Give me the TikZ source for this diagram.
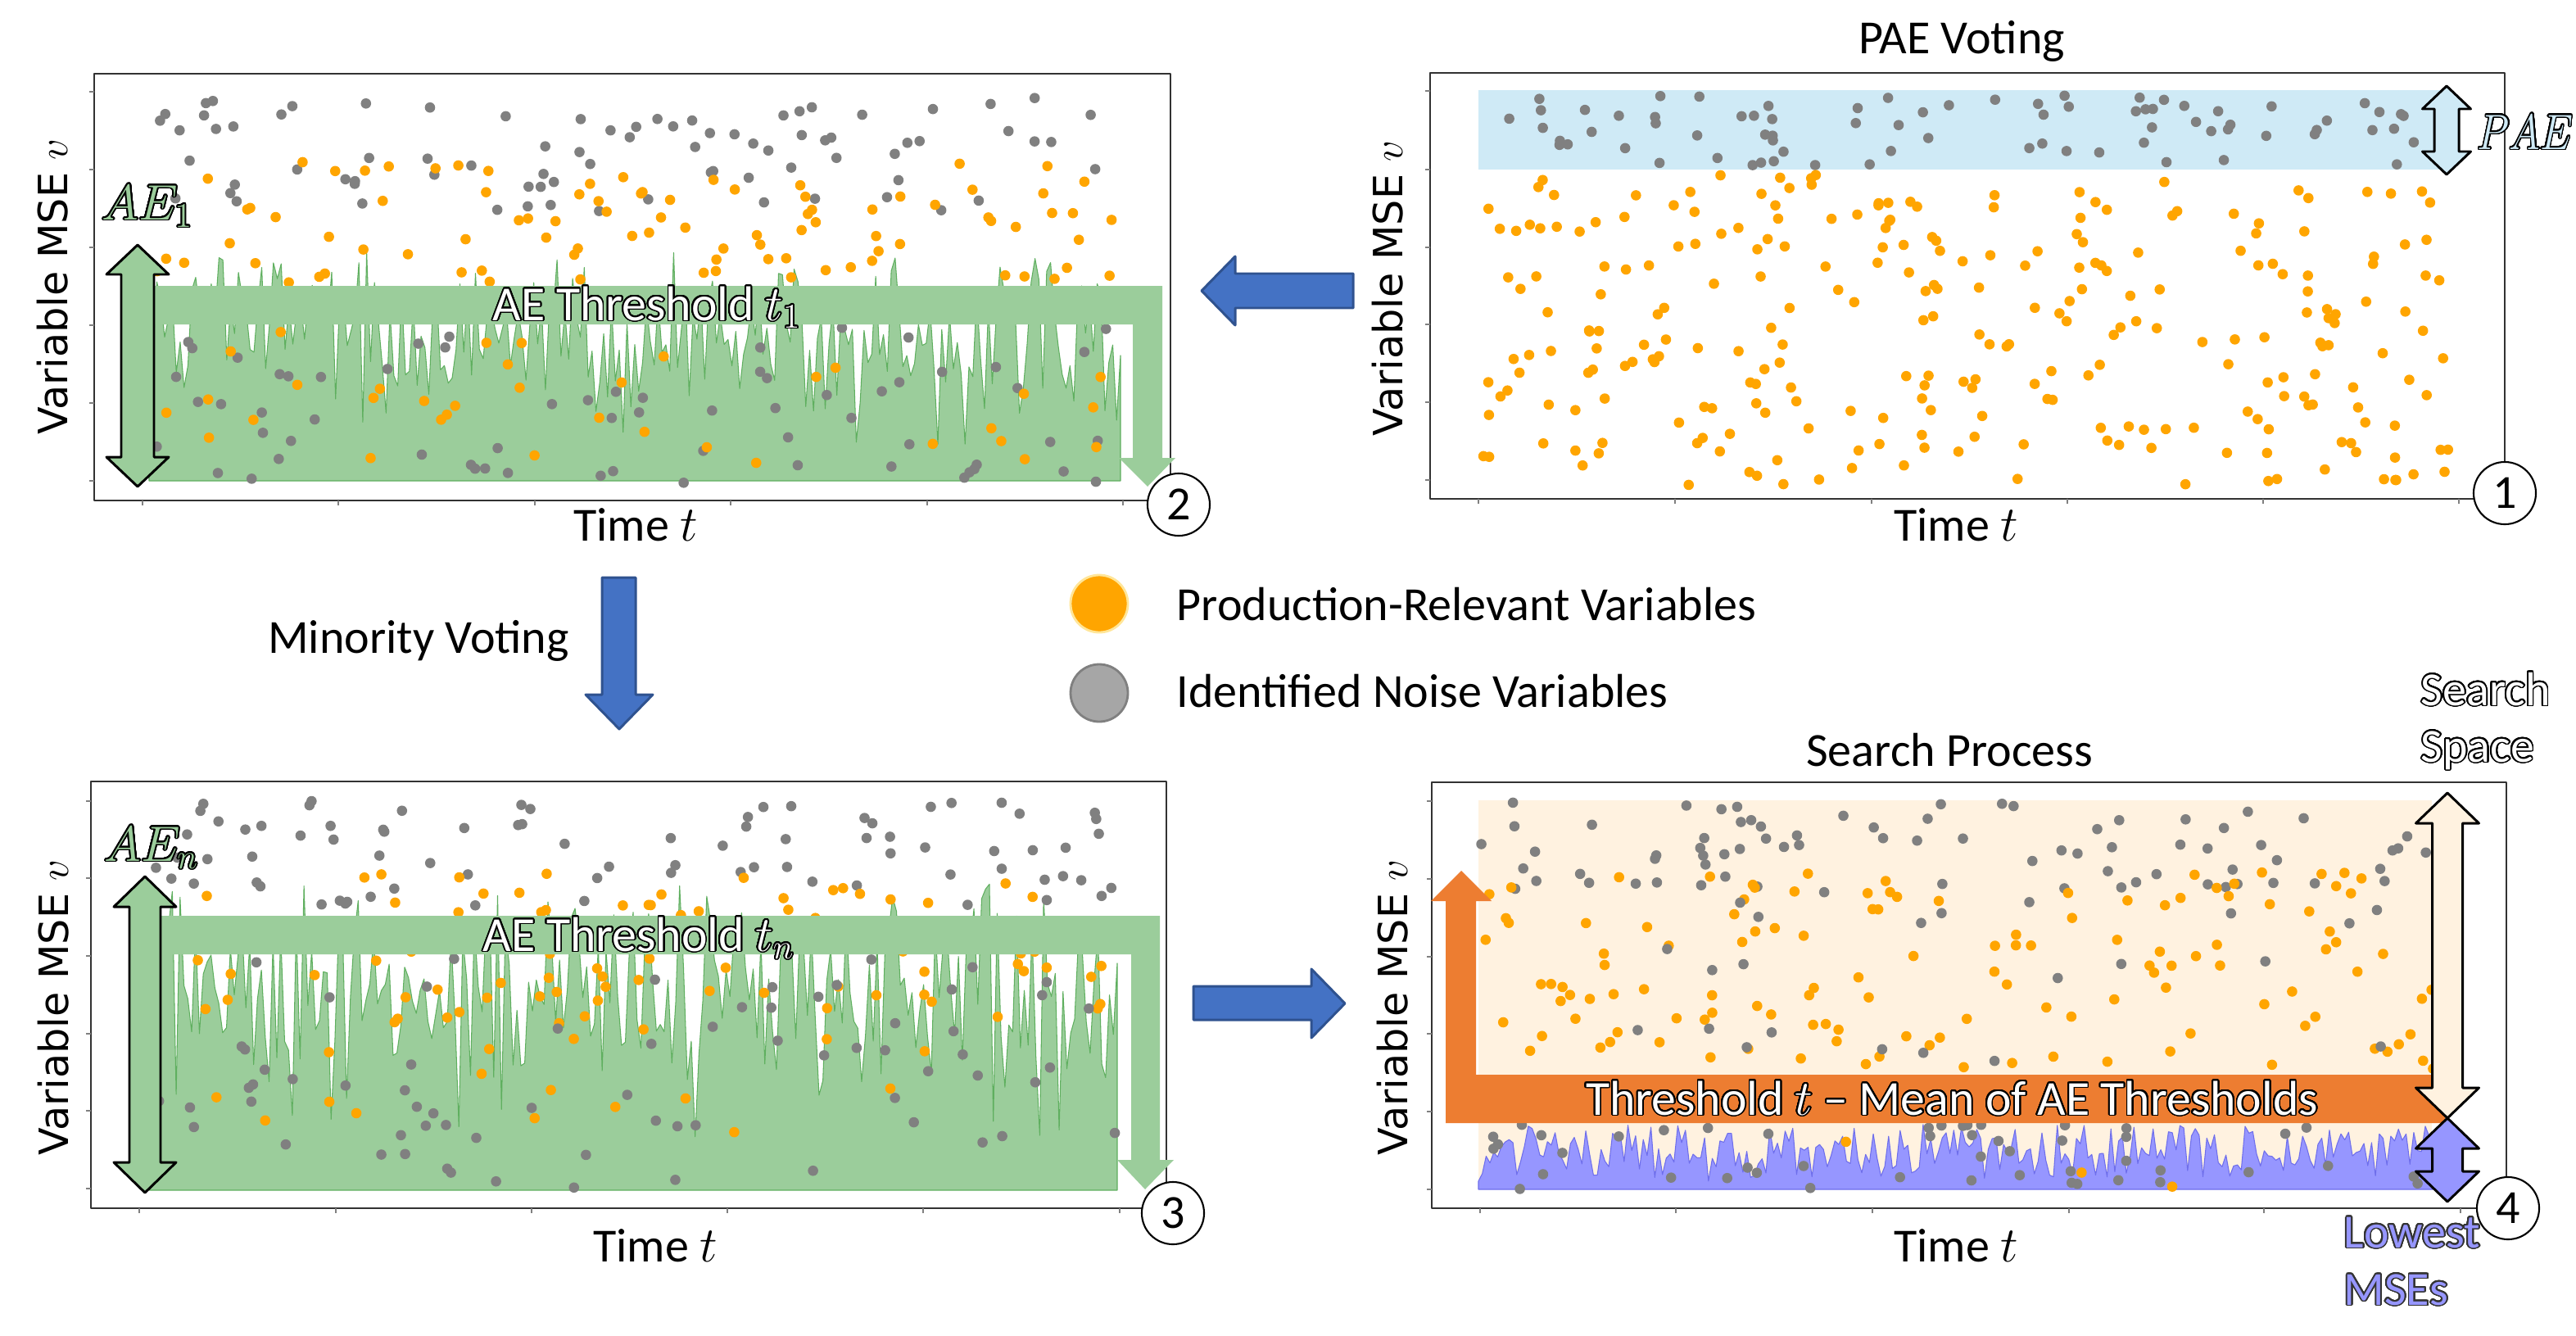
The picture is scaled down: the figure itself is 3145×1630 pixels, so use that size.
\documentclass[tikz,border=0pt]{standalone}
\usepackage{fontspec}
\usepackage{graphicx}
\setmainfont{Carlito}
\newfontfamily\dejavu{DejaVu Sans}
\usepackage{contour}
\contourlength{0.5pt}
\contournumber{32}

\definecolor{gdot}{RGB}{128,128,128}
\definecolor{odot}{RGB}{255,165,0}
\definecolor{aegreen}{RGB}{155,205,155}
\definecolor{aeline}{RGB}{95,175,95}
\definecolor{paeblue}{RGB}{207,234,246}
\definecolor{beigebg}{RGB}{255,242,224}
\definecolor{throrange}{RGB}{237,125,49}
\definecolor{lowpurple}{RGB}{150,150,255}
\definecolor{lowline}{RGB}{110,110,235}
\definecolor{arrblue}{RGB}{68,114,196}
\definecolor{arrblued}{RGB}{47,82,143}
\definecolor{framegray}{RGB}{50,50,50}
\definecolor{legorangeedge}{RGB}{255,230,153}
\definecolor{leggray}{RGB}{166,166,166}

\newcommand\calsize{\fontsize{16.5}{19.8}\selectfont}
\newcommand\bigsize{\fontsize{17}{20.4}\selectfont}

% random scatter of dots
\newcommand\scatterdots[6]{%
  \foreach \k in {1,...,#1}{\fill[#6] ({#2+rnd*(#3-#2)},{#4+rnd*(#5-#4)}) circle[radius=6.3];}}
% spiky noise area: xmin, xmax, ybase, ytop, range, skew, style
\newcommand\noisefill[7]{%
  \filldraw[#7] (#1,#3) \foreach \k in {0,...,250}{ -- ({#1+(#2-#1)/250*\k},{#4+#5*(rnd*(1-#6)+#6*rnd*rnd)}) } -- (#2,#3) -- cycle;}
% vertical double arrow: cx, ytop, ybot, headlen, headhalf, shafthalf, style
\newcommand\vdarrow[7]{%
  \filldraw[#7] (#1,#2) -- ({#1+#5},{#2+#4}) -- ({#1+#6},{#2+#4}) -- ({#1+#6},{#3-#4}) -- ({#1+#5},{#3-#4}) -- (#1,#3)
   -- ({#1-#5},{#3-#4}) -- ({#1-#6},{#3-#4}) -- ({#1-#6},{#2+#4}) -- ({#1-#5},{#2+#4}) -- cycle;}
% frame with ticks: x0,y0,x1,y1, list of y ticks, list of x ticks
\newcommand\plotframe[6]{%
  \draw[framegray, line width=0.6pt] (#1,#2) rectangle (#3,#4);
  \foreach \t in {#5}{\draw[gray, line width=0.4pt] (#1,\t) -- ({#1-6},\t);}
  \foreach \t in {#6}{\draw[gray, line width=0.4pt] (\t,#4) -- (\t,{#4+6});}}

\tikzset{
  numcircle/.style={circle, draw=black, fill=white, line width=0.6pt, minimum size=0.76cm, inner sep=0pt, font=\calsize},
  ylab/.style={rotate=90, font=\dejavu\fontsize{14}{17}\selectfont},
  blockarrow/.style={fill=arrblue, draw=arrblued, line width=0.85pt},
  dblarrow/.style={draw=black, line width=0.85pt}
}

\begin{document}
\begin{tikzpicture}[x=0.01cm, y=-0.01cm, line join=round]
\useasboundingbox (0,0) rectangle (3145,1630);
\fill[white] (0,0) rectangle (3145,1630);

%================ Panel 1 (top left) =================
\plotframe{115}{90}{1429}{611}{112,207,302,397,492,587}{174,413,653,892,1132,1371}
\pgfmathsetseed{101}
\noisefill{182}{1368}{587}{300}{287}{0.5}{fill=aegreen, draw=aeline, line width=0.3pt}
\scatterdots{80}{185}{1365}{112}{260}{gdot}
\scatterdots{90}{185}{1365}{195}{345}{odot}
\scatterdots{65}{185}{1365}{400}{590}{gdot}
\scatterdots{35}{185}{1365}{400}{570}{odot}
\fill[aegreen] (187,349) -- (1419,349) -- (1419,559) -- (1435,559) -- (1401,594) -- (1366,559) -- (1383,559) -- (1383,396) -- (187,396) -- cycle;
\node[anchor=base, font=\bigsize] (thr1) at (790,391) {\color{white}\contour{black}{AE Threshold $t_1$}};
\vdarrow{168}{299}{594}{36}{38}{20}{fill=aegreen, dblarrow}
\node[anchor=base west, inner sep=0pt, font=\bigsize] (ae1) at (124,268) {\color{aegreen}\contour{black}{$AE_1$}};
\node[ylab] (ylab1) at (64,350) {Variable MSE $v$};
\node[anchor=base, font=\calsize] (time1) at (776,660) {Time $t$};
\node[numcircle] (n2) at (1439,616) {2};

%================ Panel 2 (top right) =================
\plotframe{1746}{89}{3058}{609}{111,207,302,396,491,586}{1805,2045,2285,2524,2763,3002}
\fill[paeblue] (1805,110) rectangle (2989,207);
\pgfmathsetseed{202}
\scatterdots{78}{1808}{2995}{115}{203}{gdot}
\scatterdots{270}{1808}{2998}{213}{592}{odot}
\vdarrow{2987}{105}{213}{28}{29.5}{15}{fill=paeblue, dblarrow}
\node[anchor=base west, inner sep=0pt, font=\fontsize{17}{20}\selectfont] (pae) at (3024,182) {\scalebox{0.84}[1]{\color{paeblue}\contour{black}{$PAE$}}};
\node[anchor=base, font=\calsize] (title1) at (2395,65) {PAE Voting};
\node[ylab] (ylab2) at (1694,352) {Variable MSE $v$};
\node[anchor=base, font=\calsize] (time2) at (2388,660) {Time $t$};
\node[numcircle] (n1) at (3058,602) {1};

%================ Panel 3 (bottom left) =================
\plotframe{111}{954}{1424}{1475}{978,1072,1167,1262,1356,1451}{170,410,649,888,1127,1367}
\pgfmathsetseed{303}
\noisefill{182}{1364}{1453}{1072}{381}{0.5}{fill=aegreen, draw=aeline, line width=0.3pt}
\scatterdots{80}{178}{1362}{978}{1110}{gdot}
\scatterdots{80}{178}{1362}{1060}{1250}{odot}
\scatterdots{70}{178}{1362}{1165}{1452}{gdot}
\scatterdots{25}{178}{1362}{1165}{1400}{odot}
\fill[aegreen] (196,1118) -- (1416,1118) -- (1416,1416) -- (1433,1416) -- (1398,1452) -- (1364,1416) -- (1381,1416) -- (1381,1165) -- (196,1165) -- cycle;
\node[anchor=base, font=\bigsize] (thrn) at (780,1161) {\color{white}\contour{black}{AE Threshold $t_n$}};
\vdarrow{177}{1070}{1456}{37}{38}{19}{fill=aegreen, dblarrow}
\node[anchor=base west, inner sep=0pt, font=\bigsize] (aen) at (127,1051) {\color{aegreen}\contour{black}{$AE_n$}};
\node[ylab] (ylab3) at (65,1230) {Variable MSE $v$};
\node[anchor=base, font=\calsize] (time3) at (800,1540) {Time $t$};
\node[numcircle] (n3) at (1432,1481) {3};

%================ Panel 4 (bottom right) =================
\plotframe{1748}{955}{3060}{1475}{978,1073,1168,1262,1357,1452}{1807,2046,2286,2526,2764,3004}
\fill[beigebg] (1805,977) rectangle (2969,1451);
\pgfmathsetseed{404}
\noisefill{1805}{2975}{1452}{1370}{80}{0.2}{fill=lowpurple, draw=lowline, line width=0.3pt}
\scatterdots{78}{1808}{2998}{978}{1090}{gdot}
\scatterdots{130}{1808}{2990}{1065}{1305}{odot}
\scatterdots{22}{1808}{2990}{1100}{1305}{gdot}
\scatterdots{50}{1808}{2990}{1372}{1452}{gdot}
\scatterdots{3}{1808}{2990}{1372}{1452}{odot}
\fill[throrange] (1765,1371) -- (1765,1100) -- (1747,1100) -- (1784,1063) -- (1821,1100) -- (1802,1100) -- (1802,1312) -- (2985,1312) -- (2985,1371) -- cycle;
\node[anchor=base, font=\bigsize] (thr) at (2383,1361) {\color{white}\contour{black}{Threshold $t$ -- Mean of AE Thresholds}};
\vdarrow{2988}{968}{1365}{37}{38.5}{18.5}{fill=beigebg, dblarrow}
\vdarrow{2988}{1365}{1467}{37}{38.5}{18.5}{fill=lowpurple, dblarrow}
\node[anchor=base, font=\calsize] (title2) at (2380,935) {Search Process};
\node[anchor=base west, inner sep=0pt, font=\calsize] (ss1) at (2955,861) {\color{white}\contour{black}{Search}};
\node[anchor=base west, inner sep=0pt, font=\calsize] (ss2) at (2955,930) {\color{white}\contour{black}{Space}};
\node[anchor=base west, inner sep=0pt, font=\calsize] (lm1) at (2861,1523) {\color{lowpurple}\contour{black!80}{Lowest}};
\node[anchor=base west, inner sep=0pt, font=\calsize] (lm2) at (2861,1593) {\color{lowpurple}\contour{black!80}{MSEs}};
\node[ylab] (ylab4) at (1700,1230) {Variable MSE $v$};
\node[anchor=base, font=\calsize] (time4) at (2388,1540) {Time $t$};
\node[numcircle] (n4) at (3062,1475) {4};

%================ Block arrows and legend =================
% left arrow (panel 2 -> panel 1)
\filldraw[blockarrow] (1652,334) -- (1508,334) -- (1508,313) -- (1467,355) -- (1508,397) -- (1508,376) -- (1652,376) -- cycle;
% down arrow (panel 1 -> panel 3)
\filldraw[blockarrow] (735,705) -- (776,705) -- (776,848) -- (797,848) -- (756,890) -- (715,848) -- (735,848) -- cycle;
\node[anchor=base, font=\calsize] (minority) at (511,797) {Minority Voting};
% right arrow (panel 3 -> panel 4)
\filldraw[blockarrow] (1457,1204) -- (1601,1204) -- (1601,1183) -- (1642,1225) -- (1601,1267) -- (1601,1245) -- (1457,1245) -- cycle;

% legend
\filldraw[fill=odot, draw=legorangeedge, line width=0.8pt] (1342,737) circle[radius=35];
\filldraw[fill=leggray, draw=gdot, line width=0.8pt] (1342,846) circle[radius=35];
\node[anchor=base west, inner sep=0pt, font=\calsize] (leg1) at (1436,757) {Production-Relevant Variables};
\node[anchor=base west, inner sep=0pt, font=\calsize] (leg2) at (1436,863) {Identified Noise Variables};
\end{tikzpicture}
\end{document}
